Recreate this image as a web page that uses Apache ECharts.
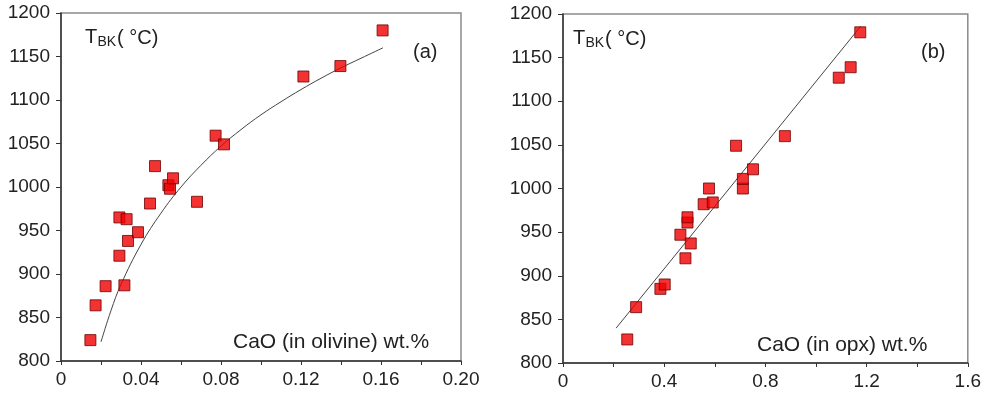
<!DOCTYPE html>
<html>
<head>
<meta charset="utf-8">
<script src="https://cdn.jsdelivr.net/npm/echarts@6/dist/echarts.min.js"></script>
<style>
html,body{margin:0;padding:0;background:#fff;}
#chart{width:984px;height:396px;}
</style>
</head>
<body>
<div id="chart"></div>
<script>
// Panel (a): CaO in olivine vs T_BK
var olivineCaO = [0.0147,0.0173,0.0223,0.0292,0.0317,0.0292,0.0328,0.0335,0.0385,0.0445,0.047,0.0537,0.0545,0.056,0.068,0.0773,0.0815,0.1212,0.1397,0.1608];
var olivineT   = [824,864,886,921,887,965,963,938,948,981,1024,1002,998,1010,983,1059,1049,1127,1139,1180];
// trend curve
var curveA_x = [0.020,0.025,0.030,0.040,0.050,0.060,0.070,0.080,0.090,0.100,0.110,0.120,0.130,0.140,0.150,0.161];
var curveA_y = [822,858,888,934,970,1000,1025,1047,1066,1083,1098,1112,1125,1137,1148,1160];

// Panel (b): CaO in opx vs T_BK
var opxCaO = [0.254,0.289,0.385,0.402,0.464,0.484,0.492,0.492,0.505,0.556,0.592,0.577,0.684,0.711,0.711,0.751,0.877,1.090,1.137,1.175];
var opxT   = [827,864,885,890,947,920,961,967,937,982,984,1000,1049,1000,1011,1022,1060,1127,1139,1179];
var lineB_x = [0.21,1.177];
var lineB_y = [840,1186];

// tick labels
var xTicksA = ['0','0.04','0.08','0.12','0.16','0.20'];
var xTicksB = ['0','0.4','0.8','1.2','1.6'];
var yTicks = ['800','850','900','950','1000','1050','1100','1150','1200'];

function pairs(xs, ys){ return xs.map(function(x,i){ return [x, ys[i]]; }); }

var FONT = '"Liberation Sans", Arial, Helvetica, sans-serif';
var axisCol = '#333';

function xAxisCfg(grid, max, interval, labels){
  return {
    type:'value', gridIndex:grid, min:0, max:max, interval:interval,
    axisLine:{show:true, onZero:false, lineStyle:{color:axisCol, width:1.5}},
    axisTick:{show:true, inside:false, length:4, lineStyle:{color:axisCol, width:1}},
    splitLine:{show:false},
    axisLabel:{
      color:'#222', fontSize:19, fontFamily:FONT, margin:9,
      showMinLabel:true, showMaxLabel:true,
      formatter:function(v){
        var k = Math.round(v/interval);
        if (k % 2 !== 0) return '';
        return labels[k/2];
      }
    }
  };
}
function yAxisCfg(grid){
  return {
    type:'value', gridIndex:grid, min:800, max:1200, interval:50,
    axisLine:{show:true, onZero:false, lineStyle:{color:axisCol, width:1.5}},
    axisTick:{show:true, length:5, lineStyle:{color:axisCol, width:1}},
    splitLine:{show:false},
    axisLabel:{
      color:'#222', fontSize:19, fontFamily:FONT, margin:11,
      formatter:function(v){ return yTicks[Math.round((v-800)/50)]; }
    }
  };
}

var markerStyle = {color:'#f00000', borderColor:'#700000', borderWidth:1};

function txt(x, y, text, size){
  var s = {text:text, x:x, y:y, fill:'#222', font: size + 'px ' + FONT, textVerticalAlign:'middle', verticalAlign:'middle', textAlign:'left', align:'left'};
  return {type:'text', z:100, style:s};
}

var option = {
  animation:false,
  backgroundColor:'#fff',
  grid:[
    {left:61, top:13, width:400, height:348, show:true, borderColor:'#8a8a8a', borderWidth:1.5, backgroundColor:'transparent'},
    {left:563, top:14, width:405, height:349, show:true, borderColor:'#8a8a8a', borderWidth:1.5, backgroundColor:'transparent'}
  ],
  xAxis:[ xAxisCfg(0, 0.2, 0.02, xTicksA), xAxisCfg(1, 1.6, 0.2, xTicksB) ],
  yAxis:[ yAxisCfg(0), yAxisCfg(1) ],
  series:[
    {type:'line', xAxisIndex:0, yAxisIndex:0, data:pairs(curveA_x, curveA_y), smooth:0.4, showSymbol:false, symbol:'none',
     lineStyle:{color:'#444', width:1}, z:1, silent:true},
    {type:'scatter', xAxisIndex:0, yAxisIndex:0, data:pairs(olivineCaO, olivineT), symbol:'rect', symbolSize:11, itemStyle:markerStyle, z:2},
    {type:'line', xAxisIndex:1, yAxisIndex:1, data:pairs(lineB_x, lineB_y), showSymbol:false, symbol:'none',
     lineStyle:{color:'#444', width:1}, z:1, silent:true},
    {type:'scatter', xAxisIndex:1, yAxisIndex:1, data:pairs(opxCaO, opxT), symbol:'rect', symbolSize:11, itemStyle:markerStyle, z:2}
  ],
  graphic:[
    txt(85, 37, 'T', 20), txt(97.5, 42, 'BK', 14), txt(117, 38, '( °C)', 20),
    txt(413, 52, '(a)', 20),
    txt(233, 342, 'CaO (in olivine) wt.%', 21),
    txt(573, 38, 'T', 20), txt(585.5, 43, 'BK', 14), txt(605, 39, '( °C)', 20),
    txt(921, 52, '(b)', 20),
    txt(757, 345, 'CaO (in opx) wt.%', 21)
  ]
};

var chart = echarts.init(document.getElementById('chart'), null, {renderer:'canvas'});
chart.setOption(option);
</script>
</body>
</html>
